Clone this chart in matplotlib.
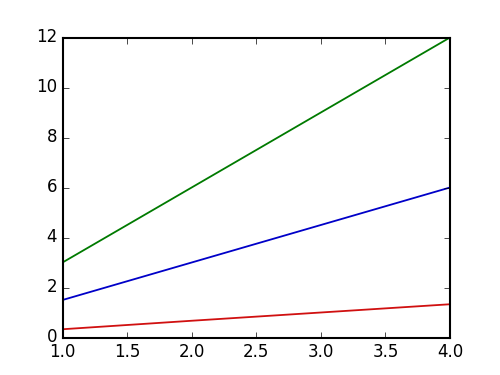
import matplotlib
matplotlib.use('Agg')
import matplotlib.pyplot as plt

plt.style.use('classic')

x = [1, 2, 3, 4]
blue = [1.5, 3.0, 4.5, 6.0]
green = [3.0, 6.0, 9.0, 12.0]
red = [0.33, 0.67, 1.0, 1.33]

fig = plt.figure(figsize=(5, 3.75), dpi=100)
ax = fig.add_subplot(111)
ax.plot(x, blue, color='#0000c8', lw=1.3)
ax.plot(x, green, color='#007a00', lw=1.3)
ax.plot(x, red, color='#d01010', lw=1.3)
ax.set_xlim(1.0, 4.0)
ax.set_ylim(0, 12)
for s in ax.spines.values():
    s.set_linewidth(1.5)

fig.savefig('out.png', dpi=100)
